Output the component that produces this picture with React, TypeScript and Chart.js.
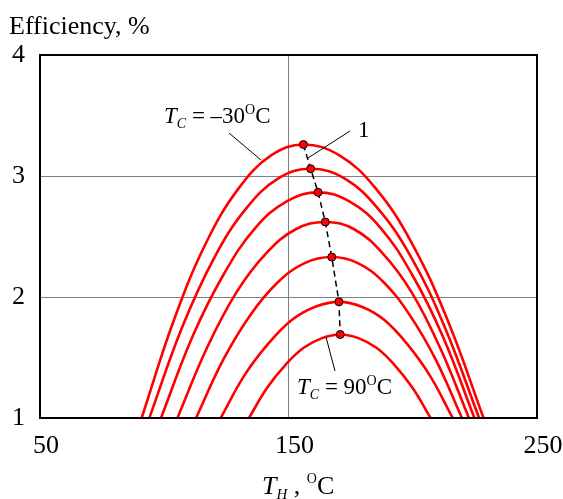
import { useEffect, useRef } from 'react';
import { Chart, registerables } from 'chart.js';
Chart.register(...registerables);

// Efficiency vs hot temperature T_H for cold temperatures T_C = -30 ... 90 °C
const TC_LABELS = ['-30', '-10', '10', '30', '50', '70', '90'];

const TH_1 = [90.9, 103.9, 116.9, 130.0, 143.0, 156.0, 170.5, 185.0, 199.5, 214.0, 228.5];
const EFF_1 = [1, 1.81, 2.45, 2.9, 3.17, 3.26, 3.17, 2.9, 2.45, 1.81, 1];
const TH_2 = [94.0, 107.0, 120.0, 132.9, 145.9, 158.9, 172.5, 186.0, 199.6, 213.1, 226.7];
const EFF_2 = [1, 1.74, 2.32, 2.73, 2.98, 3.06, 2.98, 2.73, 2.32, 1.74, 1];
const TH_3 = [98.7, 111.3, 124.0, 136.6, 149.3, 161.9, 174.5, 187.1, 199.6, 212.2, 224.8];
const EFF_3 = [1, 1.67, 2.19, 2.57, 2.79, 2.865, 2.79, 2.57, 2.19, 1.67, 1];
const TH_4 = [105.3, 117.2, 129.1, 141.0, 152.9, 164.8, 176.4, 187.9, 199.5, 211.0, 222.6];
const EFF_4 = [1, 1.58, 2.04, 2.36, 2.56, 2.62, 2.56, 2.36, 2.04, 1.58, 1];
const TH_5 = [112.8, 123.7, 134.6, 145.6, 156.5, 167.4, 177.9, 188.4, 198.8, 209.3, 219.8];
const EFF_5 = [1, 1.48, 1.85, 2.12, 2.28, 2.33, 2.28, 2.12, 1.85, 1.48, 1];
const TH_6 = [122.7, 132.2, 141.7, 151.3, 160.8, 170.3, 179.5, 188.6, 197.8, 206.9, 216.1];
const EFF_6 = [1, 1.35, 1.61, 1.81, 1.92, 1.96, 1.92, 1.81, 1.61, 1.35, 1];
const TH_7 = [134.1, 141.4, 148.8, 156.1, 163.5, 170.8, 178.1, 185.4, 192.6, 199.9, 207.2];
const EFF_7 = [1, 1.25, 1.44, 1.58, 1.66, 1.69, 1.66, 1.58, 1.44, 1.25, 1];

// Line 1: maxima of each curve
const PEAK_TH = [156.0, 158.9, 161.9, 164.8, 167.4, 170.3, 170.8];
const PEAK_EFF = [3.26, 3.06, 2.865, 2.62, 2.33, 1.96, 1.69];

const X_TICKS = [50, 150, 250];
const Y_TICKS = [1, 2, 3, 4];

const SERIF = '"Liberation Serif", "Times New Roman", Times, serif';

const CURVES_TH = [TH_1, TH_2, TH_3, TH_4, TH_5, TH_6, TH_7];
const CURVES_EFF = [EFF_1, EFF_2, EFF_3, EFF_4, EFF_5, EFF_6, EFF_7];

type Part = { text: string; italic?: boolean; size: number; dy?: number; gap?: number };

function drawRich(ctx: CanvasRenderingContext2D, parts: Part[], x: number, y: number) {
  let cx = x;
  for (const p of parts) {
    ctx.font = `${p.italic ? 'italic ' : ''}${p.size}px ${SERIF}`;
    ctx.fillText(p.text, cx, y + (p.dy || 0));
    cx += ctx.measureText(p.text).width + (p.gap || 0);
  }
}

const annotationPlugin = {
  id: 'annotations',
  afterDraw(chart: any) {
    const ctx: CanvasRenderingContext2D = chart.ctx;
    const a = chart.chartArea;
    ctx.save();
    // frame
    ctx.strokeStyle = '#000';
    ctx.lineWidth = 2;
    ctx.strokeRect(a.left, a.top, a.right - a.left, a.bottom - a.top);

    ctx.fillStyle = '#000';
    ctx.textBaseline = 'alphabetic';
    ctx.textAlign = 'left';
    // y title
    ctx.font = `26px ${SERIF}`;
    ctx.fillText('Efficiency, %', 9, 34);

    // x title
    drawRich(ctx, [
      { text: 'T', italic: true, size: 26 },
      { text: 'H', italic: true, size: 15, dy: 5 },
      { text: ' , ', size: 26 },
      { text: 'O', size: 14, dy: -11 },
      { text: 'C', size: 26 },
    ], 262, 494);

    // curve labels
    drawRich(ctx, [
      { text: 'T', italic: true, size: 23 },
      { text: 'C', italic: true, size: 14, dy: 5 },
      { text: ' = \u201330', size: 23 },
      { text: 'O', size: 14, dy: -9 },
      { text: 'C', size: 23 },
    ], 164, 123);
    drawRich(ctx, [
      { text: 'T', italic: true, size: 23 },
      { text: 'C', italic: true, size: 14, dy: 5 },
      { text: ' = 90', size: 23 },
      { text: 'O', size: 14, dy: -9 },
      { text: 'C', size: 23 },
    ], 297, 394);
    ctx.font = `23px ${SERIF}`;
    ctx.fillText('1', 358, 137);

    // leader lines
    ctx.lineWidth = 1;
    ctx.beginPath();
    ctx.moveTo(229, 133);
    ctx.lineTo(261, 160);
    ctx.moveTo(350, 131);
    ctx.lineTo(308, 158);
    ctx.moveTo(326, 337);
    ctx.lineTo(335, 371);
    ctx.stroke();
    ctx.restore();
  },
};

export default function App() {
  const ref = useRef<HTMLCanvasElement | null>(null);
  useEffect(() => {
    document.body.style.margin = '0';
    const canvas = ref.current!;
    const datasets: any[] = CURVES_TH.map((xs, i) => ({
      label: 'T_C = ' + TC_LABELS[i] + ' °C',
      data: xs.map((x, j) => ({ x, y: CURVES_EFF[i][j] })),
      borderColor: '#ff0000',
      borderWidth: 2.6,
      pointRadius: 0,
      showLine: true,
      fill: false,
      tension: 0.4,
      order: 2,
    }));
    datasets.push({
      label: '1',
      data: PEAK_TH.map((x, j) => ({ x, y: PEAK_EFF[j] })),
      borderColor: '#000',
      borderWidth: 1.5,
      borderDash: [6, 4],
      pointRadius: 4,
      pointBackgroundColor: '#ff0000',
      pointBorderColor: '#000',
      pointBorderWidth: 1,
      showLine: true,
      fill: false,
      order: 1,
    });
    const chart = new Chart(canvas, {
      type: 'scatter',
      data: { datasets },
      plugins: [annotationPlugin],
      options: {
        animation: false,
        responsive: false,
        layout: { padding: { top: 55, right: 26, left: 0, bottom: 0 } },
        plugins: { legend: { display: false }, tooltip: { enabled: false }, title: { display: false } },
        scales: {
          x: {
            type: 'linear',
            min: 50,
            max: 250,
            afterBuildTicks: (s: any) => { s.ticks = X_TICKS.map((v) => ({ value: v })); },
            afterFit: (s: any) => { s.height = 81; s.paddingLeft = 0; s.paddingRight = 0; },
            grid: { color: '#808080', lineWidth: 1, drawTicks: false },
            border: { display: false },
            ticks: { color: '#000', font: { family: SERIF, size: 26 }, padding: 13, labelOffset: 6, maxRotation: 0 },
          },
          y: {
            type: 'linear',
            min: 1,
            max: 4,
            afterBuildTicks: (s: any) => { s.ticks = Y_TICKS.map((v) => ({ value: v })); },
            afterFit: (s: any) => { s.width = 40; s.paddingTop = 0; s.paddingBottom = 0; },
            grid: { color: '#808080', lineWidth: 1, drawTicks: false },
            border: { display: false },
            ticks: { color: '#000', font: { family: SERIF, size: 26 }, padding: 15 },
          },
        },
      },
    });
    return () => chart.destroy();
  }, []);
  return (
    <div style={{ width: 563, height: 499 }}>
      <canvas ref={ref} width={563} height={499} style={{ display: 'block' }} />
    </div>
  );
}
